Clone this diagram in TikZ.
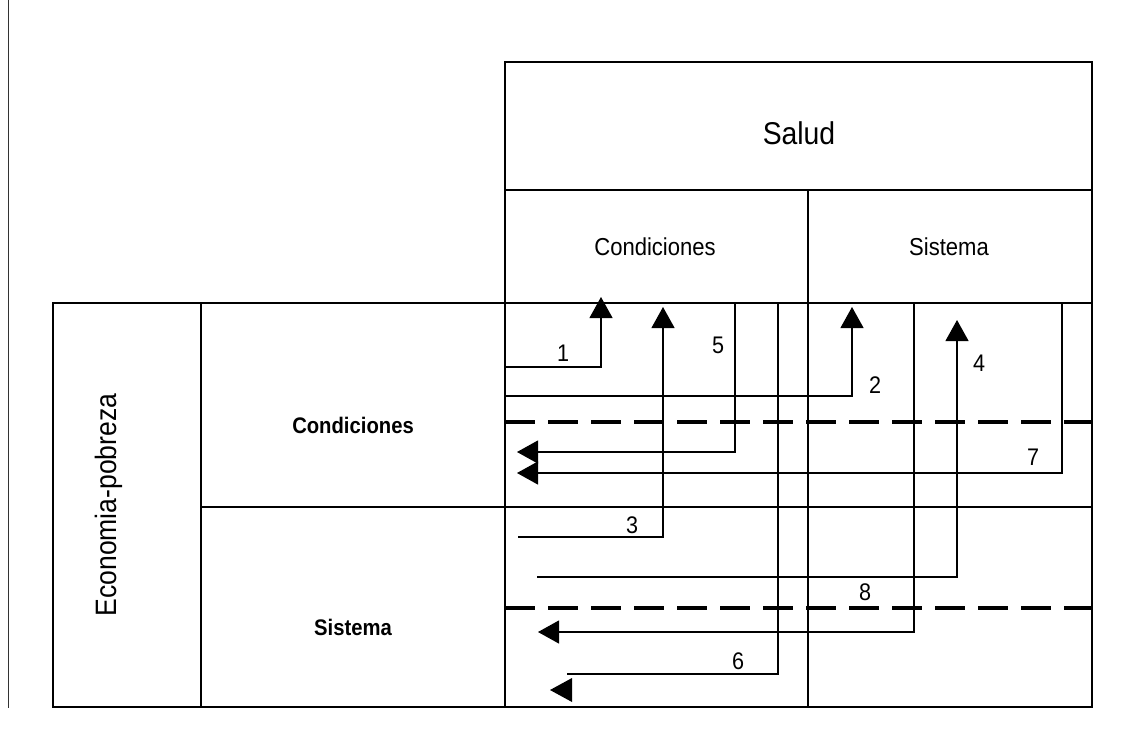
\documentclass[tikz,border=0pt]{standalone}
\usepackage{fontspec}
\setmainfont{Liberation Sans}[FakeStretch=0.9]
\usetikzlibrary{arrows.meta}
\tikzset{
  celda/.style={draw, line width=1.1pt},
  flecha/.style={line width=1.1pt, -{Triangle[length=21pt,width=23pt]}},
  corte/.style={line width=4pt, dash pattern=on 30pt off 13pt},
  num/.style={font=\fontsize{24}{26}\selectfont, inner sep=0pt},
}

\begin{document}
\begin{tikzpicture}[x=1pt, y=-1pt]
  \useasboundingbox (0,0) rectangle (1123,729);
  \draw[line width=0.9pt, black!80] (8,0)--(8,708);
  % grid
  \draw[celda] (505,62) rectangle (1092,190);
  \draw[celda] (505,190) rectangle (1092,707);
  \draw[celda] (53,303) rectangle (505,707);
  \draw[celda] (201,303)--(201,707);
  \draw[celda] (53,303)--(1092,303);
  \draw[celda] (201,507)--(1092,507);
  \draw[celda] (808,190)--(808,707);
  \draw[corte] (505,422)--(1092,422);
  \draw[corte] (505,608)--(1092,608);
  % labels
  \node[font=\fontsize{31.5}{34}\selectfont] (salud) at (799,133) {Salud};
  \node[font=\fontsize{24.5}{27}\selectfont] (condS) at (655,247) {Condiciones};
  \node[font=\fontsize{24.5}{27}\selectfont] (sistS) at (949,247) {Sistema};
  \node[font=\fontsize{29.5}{32}\selectfont, rotate=90] (econ) at (109,505) {Economia-pobreza};
  \node[font=\bfseries\fontsize{22.5}{25}\selectfont] (condE) at (353,425) {Condiciones};
  \node[font=\bfseries\fontsize{22.5}{25}\selectfont] (sistE) at (353,627) {Sistema};
  % upward arrows: Economia -> Salud
  \foreach \ya/\xa/\xb/\yb in {367/505/601/297, 396/505/852/307, 537/518/663/307, 577/537/957/320}
    \draw[flecha] (\xa,\ya) -| (\xb,\yb);
  % leftward arrows: Salud -> Economia
  \foreach \xa/\ya/\xb in {735/452/517, 1062/473/517, 914/632/538}
    \draw[flecha] (\xa,303) |- (\xb,\ya);
  \draw[line width=1.1pt] (778,303) |- (567,674);
  \fill (550,690)--(572,678)--(572,702)--cycle;
  % numbers
  \foreach \n/\x/\y in {1/563/353, 2/875/385, 3/632/525, 4/979/363, 5/718/345, 6/738/661, 7/1033/457, 8/865/592}
    \node[num] (n\n) at (\x,\y) {\n};
\end{tikzpicture}
\end{document}
